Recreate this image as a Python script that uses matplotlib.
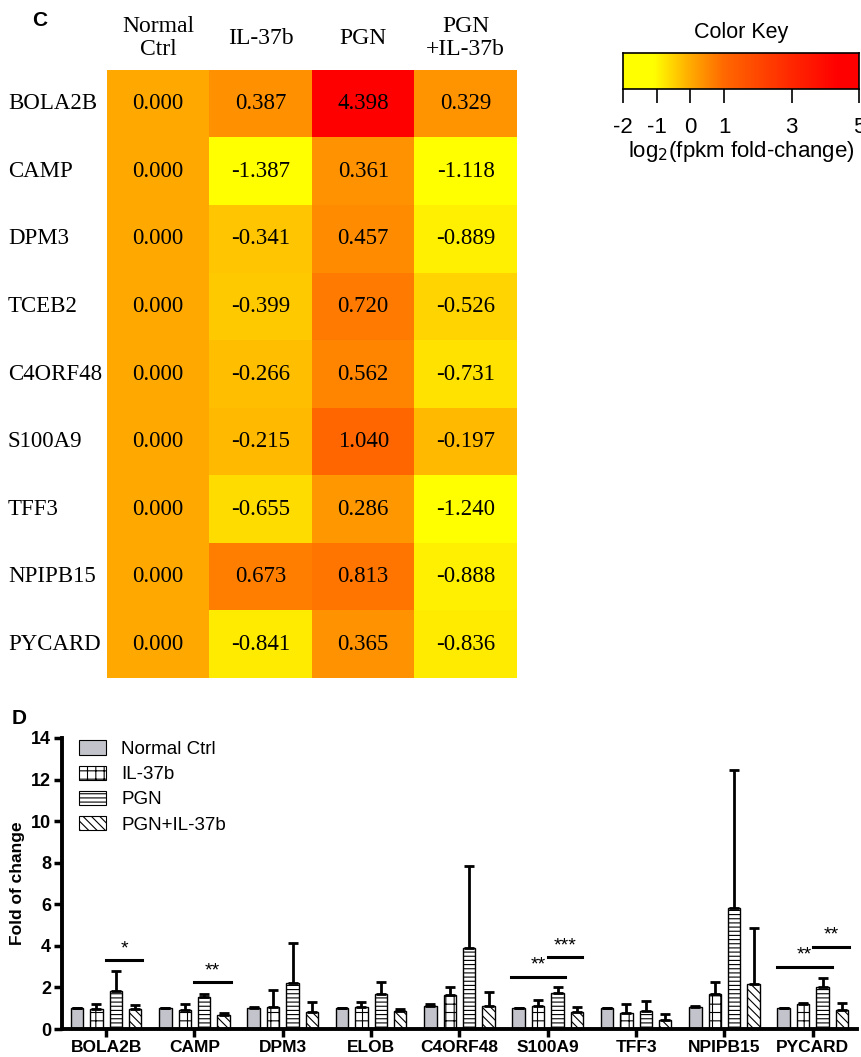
import numpy as np
import matplotlib
matplotlib.use("Agg")
import matplotlib.pyplot as plt
from matplotlib.colors import LinearSegmentedColormap, Normalize
from matplotlib.patches import Patch
import matplotlib.transforms as mtransforms

plt.rcParams['font.family'] = ['Liberation Sans', 'DejaVu Sans']
plt.rcParams['hatch.linewidth'] = 0.8

# ---- panel C data: log2 fold change ----
heat_genes = ["BOLA2B", "CAMP", "DPM3", "TCEB2", "C4ORF48", "S100A9", "TFF3", "NPIPB15", "PYCARD"]
heat_cols = ["Normal\nCtrl", "IL-37b", "PGN", "PGN\n+IL-37b"]
normal_ctrl = [0.000] * 9
il37b = [0.387, -1.387, -0.341, -0.399, -0.266, -0.215, -0.655, 0.673, -0.841]
pgn = [4.398, 0.361, 0.457, 0.720, 0.562, 1.040, 0.286, 0.813, 0.365]
pgn_il37b = [0.329, -1.118, -0.889, -0.526, -0.731, -0.197, -1.240, -0.888, -0.836]
key_ticks = [-2, -1, 0, 1, 3, 5]

# ---- panel D data: fold of change (mean, upper error) ----
bar_genes = ["BOLA2B", "CAMP", "DPM3", "ELOB", "C4ORF48", "S100A9", "TFF3", "NPIPB15", "PYCARD"]
groups = ["Normal Ctrl", "IL-37b", "PGN", "PGN+IL-37b"]
means = {
    "Normal Ctrl": [1.0, 1.0, 1.02, 1.0, 1.12, 1.0, 1.0, 1.05, 1.0],
    "IL-37b": [0.95, 0.9, 1.08, 1.08, 1.65, 1.12, 0.78, 1.7, 1.22],
    "PGN": [1.85, 1.55, 2.2, 1.68, 3.9, 1.75, 0.85, 5.8, 2.0],
    "PGN+IL-37b": [0.95, 0.65, 0.8, 0.85, 1.1, 0.8, 0.45, 2.15, 0.9],
}
upper = {
    "Normal Ctrl": [1.03, 1.0, 1.06, 1.0, 1.18, 1.02, 1.01, 1.12, 1.02],
    "IL-37b": [1.2, 1.2, 1.9, 1.32, 2.0, 1.38, 1.18, 2.25, 1.27],
    "PGN": [2.8, 1.7, 4.15, 2.25, 7.85, 2.0, 1.35, 12.45, 2.45],
    "PGN+IL-37b": [1.15, 0.78, 1.3, 0.97, 1.8, 1.05, 0.7, 4.85, 1.25],
}
# significance: (gene index, x start offset, x end offset, height, label)
sig = [
    (0, 0.0, 0.41, 3.3, "*"),
    (1, 0.0, 0.41, 2.25, "**"),
    (5, -0.42, 0.2, 2.5, "**"),
    (5, 0.0, 0.39, 3.45, "***"),
    (8, -0.41, 0.22, 3.0, "**"),
    (8, 0.0, 0.41, 3.95, "**"),
]

W, H = 862, 1057
fig = plt.figure(figsize=(W / 100, H / 100), dpi=100)

def box(x0, y0, x1, y1):
    return [x0 / W, 1 - y1 / H, (x1 - x0) / W, (y1 - y0) / H]

cmap = LinearSegmentedColormap.from_list(
    "keyheat",
    [(0.0, "#FFFF00"), (0.1286, "#FFFF00"), (0.2857, "#FFAA00"),
     (0.4286, "#FF6800"), (0.7143, "#FF2800"), (0.9143, "#FF0000"), (1.0, "#FF0000")])
norm = Normalize(-2, 5)

# ---- heatmap ----
ax = fig.add_axes(box(107, 70, 517, 678))
mat = np.array([normal_ctrl, il37b, pgn, pgn_il37b]).T
ax.imshow(mat, cmap=cmap, norm=norm, aspect='auto', interpolation='nearest')
ax.axis('off')
for i in range(mat.shape[0]):
    for j in range(mat.shape[1]):
        ax.text(j, i, f"{mat[i, j]:.3f}", ha='center', va='center',
                fontsize=16.5, family='Liberation Serif')
tr = mtransforms.blended_transform_factory(fig.transFigure, ax.transData)
for i, g in enumerate(heat_genes):
    ax.text(8 / W, i, g, transform=tr, ha='left', va='center',
            fontsize=16.5, family='Liberation Serif')
for j, c in enumerate(heat_cols):
    ax.text(j, -0.97, c, ha='center', va='center', fontsize=17,
            family='Liberation Serif', linespacing=1.1, clip_on=False)
fig.text(40 / W, 1 - 20 / H, "C", fontsize=15, fontweight='bold', ha='center', va='center')

# ---- color key ----
kax = fig.add_axes(box(623, 53, 859, 89))
grad = np.linspace(-2, 5, 400).reshape(1, -1)
kax.imshow(grad, cmap=cmap, norm=norm, aspect='auto', extent=[-2, 5, 0, 1])
kax.set_yticks([])
kax.set_xticks(key_ticks)
kax.set_xticklabels([str(t) for t in key_ticks], fontsize=16)
kax.tick_params(axis='x', length=10, width=1.2, pad=10)
for s in kax.spines.values():
    s.set_linewidth(1.2)
kax.set_title("Color Key", fontsize=15.5, pad=11)
kax.set_xlabel(r"log$_2$(fpkm fold-change)", fontsize=16, labelpad=1)

# ---- bar chart ----
bx = fig.add_axes(box(62, 738, 857, 1029))
x = np.arange(len(bar_genes))
offsets = [-0.33, -0.11, 0.11, 0.33]
fills = ["#C3C3CB", "white", "white", "white"]
hatches = [None, "++", "----", "\\\\\\\\"]
handles = []
for k, g in enumerate(groups):
    m = np.array(means[g])
    e = np.array(upper[g]) - m
    bx.bar(x + offsets[k], m, width=0.14, color=fills[k], edgecolor='black',
           linewidth=1.0, hatch=hatches[k], zorder=2)
    bx.errorbar(x + offsets[k], m, yerr=[np.zeros_like(e), e], fmt='none',
                ecolor='black', elinewidth=2, capsize=3.5, capthick=2, zorder=3)
    handles.append(Patch(facecolor=fills[k], edgecolor='black', linewidth=0.8,
                         hatch=hatches[k], label=g))
for gi, a, b, h, lab in sig:
    bx.plot([gi + a, gi + b], [h, h], color='black', lw=2.2, zorder=4)
    bx.text((2 * gi + a + b) / 2, h + 0.15, lab, ha='center', va='bottom', fontsize=14)

bx.set_xlim(-0.5, 8.5)
bx.set_ylim(0, 14)
bx.set_yticks(range(0, 15, 2))
bx.set_xticks(x)
bx.set_xticklabels(bar_genes, fontsize=12.5, fontweight='bold')
for lbl in bx.get_yticklabels():
    lbl.set_fontweight('bold')
    lbl.set_fontsize(13)
bx.tick_params(axis='both', width=2.5, length=6, pad=2)
for s in ['top', 'right']:
    bx.spines[s].set_visible(False)
for s in ['left', 'bottom']:
    bx.spines[s].set_linewidth(2.8)
bx.set_ylabel("Fold of change", fontsize=12.5, fontweight='bold', labelpad=4)
bx.legend(handles=handles, loc='upper left', bbox_to_anchor=(0.0, 1.05), frameon=False,
          fontsize=13.5, handlelength=1.45, handleheight=0.8, labelspacing=0.4, handletextpad=0.8)
fig.text(12 / W, 1 - 718 / H, "D", fontsize=15, fontweight='bold', ha='left', va='center')

fig.savefig("out.png", dpi=100)
